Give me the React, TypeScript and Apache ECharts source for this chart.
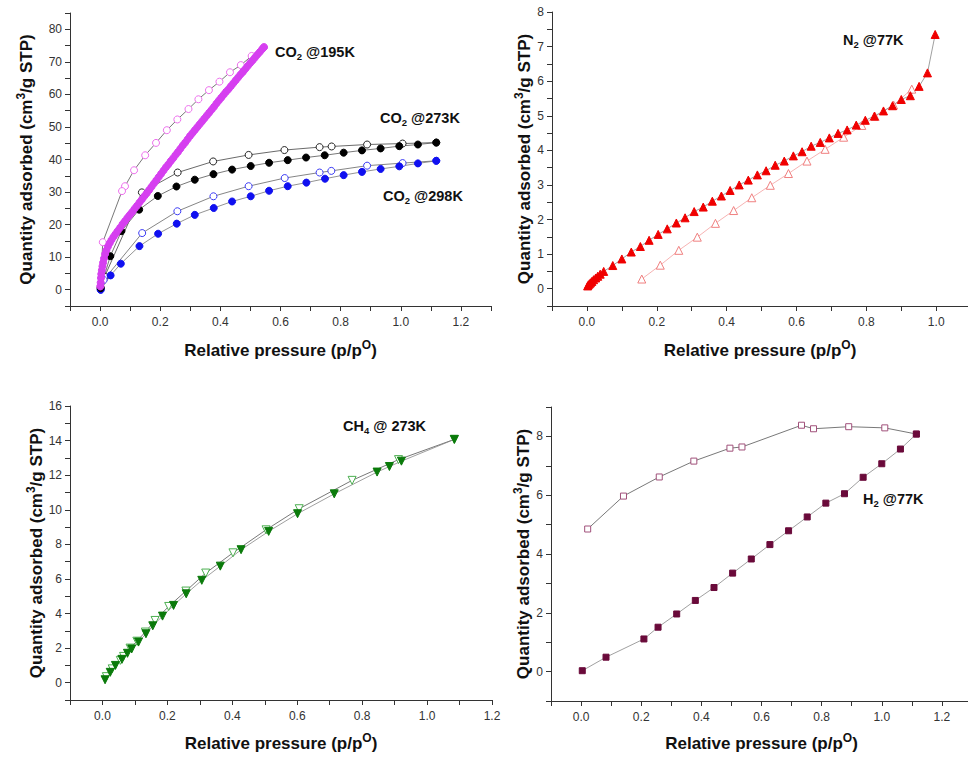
import React, { useEffect, useRef } from "react";
import * as echarts from "echarts";

const FONT = "'Liberation Sans', Arial, Helvetica, sans-serif";

// ---------- Panel 1: CO2 ----------
const CO2_195_ADS: [number, number][] = [
  [0.001, 1.0], [0.002, 2.2], [0.003, 3.6], [0.004, 4.8], [0.006, 6.0], [0.008, 7.2], [0.010, 8.3],
  [0.013, 9.6], [0.017, 11.0], [0.021, 12.1], [0.026, 13.2], [0.032, 14.3], [0.038, 15.3], [0.045, 16.3],
  [0.052, 17.2], [0.059, 18.1], [0.067, 19.1], [0.075, 20.2], [0.083, 21.1], [0.091, 22.1], [0.099, 23.0],
  [0.107, 23.9], [0.115, 24.9], [0.123, 25.8], [0.131, 26.8], [0.139, 27.7], [0.147, 28.7], [0.155, 29.6],
  [0.163, 30.6], [0.171, 31.6], [0.179, 32.6], [0.187, 33.6], [0.195, 34.6], [0.203, 35.6], [0.211, 36.6],
  [0.219, 37.6], [0.227, 38.5], [0.235, 39.5], [0.243, 40.4], [0.251, 41.4], [0.259, 42.3], [0.267, 43.3],
  [0.275, 44.3], [0.283, 45.2], [0.291, 46.2], [0.299, 47.2], [0.307, 48.1], [0.315, 49.0], [0.323, 49.9],
  [0.331, 50.8], [0.339, 51.7], [0.347, 52.6], [0.355, 53.5], [0.363, 54.4], [0.371, 55.3], [0.379, 56.2],
  [0.387, 57.2], [0.395, 58.1], [0.403, 59.0], [0.411, 59.9], [0.419, 60.8], [0.427, 61.6], [0.435, 62.5],
  [0.443, 63.4], [0.451, 64.3], [0.459, 65.2], [0.467, 66.1], [0.475, 66.9], [0.483, 67.8], [0.491, 68.7],
  [0.499, 69.6], [0.507, 70.4], [0.515, 71.3], [0.523, 72.2], [0.531, 73.0], [0.539, 73.9], [0.545, 74.5],
];
const CO2_195_DES: [number, number][] = [
  [0.545, 74.5], [0.504, 71.8], [0.468, 69.0], [0.432, 66.8], [0.397, 63.9], [0.362, 61.3], [0.327, 58.5],
  [0.294, 55.5], [0.257, 52.3], [0.222, 49.0], [0.186, 45.1], [0.150, 41.3], [0.113, 36.7], [0.083, 31.8],
  [0.073, 30.3], [0.009, 14.6], [0.001, 1.0],
];
const CO2_273_ADS: [number, number][] = [
  [0.002, 0.5], [0.034, 10.3], [0.071, 18.0], [0.130, 24.6], [0.192, 28.8], [0.254, 31.7], [0.315, 33.8],
  [0.377, 35.5], [0.439, 36.9], [0.501, 38.0], [0.562, 39.0], [0.624, 39.8], [0.685, 40.6], [0.747, 41.3],
  [0.810, 42.1], [0.871, 42.8], [0.933, 43.4], [0.995, 44.1], [1.057, 44.6], [1.118, 45.2],
];
const CO2_273_DES: [number, number][] = [
  [1.118, 45.2], [1.006, 44.9], [0.888, 44.6], [0.770, 44.0], [0.730, 43.8], [0.613, 42.9], [0.494, 41.4],
  [0.376, 39.4], [0.258, 36.0], [0.139, 29.9], [0.015, 4.0], [0.002, 0.5],
];
const CO2_298_ADS: [number, number][] = [
  [0.002, 0.0], [0.035, 4.4], [0.069, 8.0], [0.131, 13.4], [0.193, 17.2], [0.255, 20.3], [0.315, 23.0],
  [0.378, 25.1], [0.439, 27.1], [0.501, 28.7], [0.562, 30.4], [0.624, 31.8], [0.686, 32.9], [0.748, 34.1],
  [0.810, 35.2], [0.871, 36.2], [0.933, 37.1], [0.995, 37.9], [1.057, 38.8], [1.118, 39.6],
];
const CO2_298_DES: [number, number][] = [
  [1.118, 39.6], [1.006, 38.9], [0.888, 38.1], [0.769, 36.5], [0.730, 36.0], [0.614, 34.3], [0.494, 31.8],
  [0.377, 28.7], [0.257, 24.1], [0.140, 17.4], [0.012, 3.0], [0.002, 0.0],
];

// ---------- Panel 2: N2 ----------
const N2_ADS: [number, number][] = [
  [0.002, 0.08], [0.004, 0.11], [0.007, 0.14], [0.010, 0.17], [0.014, 0.21], [0.019, 0.26], [0.025, 0.31],
  [0.031, 0.36], [0.038, 0.42], [0.048, 0.50], [0.074, 0.67], [0.100, 0.86], [0.127, 1.06], [0.153, 1.22],
  [0.178, 1.40], [0.204, 1.57], [0.230, 1.73], [0.256, 1.90], [0.281, 2.05], [0.307, 2.23], [0.333, 2.36],
  [0.359, 2.53], [0.385, 2.68], [0.410, 2.84], [0.436, 3.00], [0.462, 3.14], [0.488, 3.29], [0.513, 3.41],
  [0.539, 3.57], [0.565, 3.69], [0.591, 3.84], [0.616, 3.96], [0.642, 4.12], [0.668, 4.23], [0.694, 4.36],
  [0.719, 4.49], [0.745, 4.59], [0.771, 4.73], [0.797, 4.87], [0.823, 4.99], [0.849, 5.14], [0.875, 5.29],
  [0.900, 5.47], [0.926, 5.58], [0.951, 5.85], [0.975, 6.24], [0.997, 7.35],
];
const N2_DES: [number, number][] = [
  [0.930, 5.77], [0.878, 5.31], [0.825, 4.98], [0.787, 4.72], [0.735, 4.38], [0.682, 4.03], [0.630, 3.69],
  [0.577, 3.33], [0.525, 2.99], [0.472, 2.63], [0.420, 2.26], [0.368, 1.89], [0.316, 1.49], [0.263, 1.11],
  [0.210, 0.68], [0.157, 0.28],
];

// ---------- Panel 3: CH4 ----------
const CH4_ADS: [number, number][] = [
  [0.008, 0.17], [0.024, 0.60], [0.040, 1.00], [0.060, 1.35], [0.077, 1.70], [0.090, 1.95], [0.111, 2.35],
  [0.134, 2.83], [0.155, 3.29], [0.185, 3.85], [0.219, 4.47], [0.258, 5.14], [0.306, 5.92], [0.363, 6.74],
  [0.427, 7.69], [0.512, 8.75], [0.601, 9.77], [0.714, 10.92], [0.846, 12.18], [0.884, 12.50], [0.921, 12.81],
  [1.084, 14.07],
];
const CH4_DES: [number, number][] = [
  [1.084, 14.07], [0.912, 12.90], [0.769, 11.70], [0.606, 10.06], [0.504, 8.84], [0.402, 7.51], [0.318, 6.34],
  [0.257, 5.30], [0.204, 4.41], [0.162, 3.60], [0.132, 2.93], [0.106, 2.40], [0.085, 2.00], [0.065, 1.52],
  [0.055, 1.29], [0.030, 0.80], [0.012, 0.35],
];

// ---------- Panel 4: H2 ----------
const H2_ADS: [number, number][] = [
  [0.004, 0.03], [0.083, 0.49], [0.209, 1.11], [0.256, 1.51], [0.318, 1.96], [0.380, 2.42], [0.442, 2.86],
  [0.504, 3.35], [0.566, 3.83], [0.628, 4.32], [0.690, 4.79], [0.752, 5.26], [0.814, 5.73], [0.876, 6.05],
  [0.938, 6.61], [1.000, 7.07], [1.062, 7.57], [1.115, 8.08],
];
const H2_DES: [number, number][] = [
  [1.115, 8.08], [1.010, 8.29], [0.890, 8.33], [0.773, 8.26], [0.733, 8.38], [0.535, 7.64], [0.495, 7.60],
  [0.375, 7.16], [0.260, 6.62], [0.141, 5.97], [0.022, 4.85],
];

const X_TITLE = "{t|Relative pressure (p/p}{s|O}{t|)}";
const Y_TITLE = "{t|Quantity adsorbed (cm}{s|3}{t|/g STP)}";

const titleRich = {
  t: { fontSize: 17, fontWeight: "bold", fontFamily: FONT, color: "#111", lineHeight: 22 },
  s: { fontSize: 12, fontWeight: "bold", fontFamily: FONT, color: "#111", lineHeight: 11, verticalAlign: "top" },
};

const fmtX = (v: number) => {
  const k = Math.round(v * 10);
  return k >= 0 && k % 2 === 0 && v <= 1.25 ? (k / 10).toFixed(1) : "";
};

function xAxis(gridIndex: number, max: number, nameGap: number) {
  return {
    type: "value",
    gridIndex,
    min: -0.1,
    max,
    interval: 0.1,
    axisLine: { show: true, onZero: false, lineStyle: { color: "#333", width: 1 } },
    axisTick: { show: true, length: 5, lineStyle: { color: "#333" } },
    splitLine: { show: false },
    axisLabel: { margin: 10, fontSize: 12, color: "#333", fontFamily: FONT, formatter: fmtX },
    name: X_TITLE,
    nameLocation: "middle",
    nameGap,
    nameTextStyle: { rich: titleRich },
  };
}

function yAxis(gridIndex: number, min: number, max: number, interval: number, labelStep: number, nameGap: number) {
  return {
    type: "value",
    gridIndex,
    min,
    max,
    interval,
    axisLine: { show: true, onZero: false, lineStyle: { color: "#333", width: 1 } },
    axisTick: { show: true, length: 5, lineStyle: { color: "#333" } },
    splitLine: { show: false },
    axisLabel: {
      margin: 8,
      fontSize: 12,
      color: "#333",
      fontFamily: FONT,
      formatter: (v: number) => {
        const r = Math.round(v * 1000) / 1000;
        if (r < 0) return "";
        const q = r / labelStep;
        return Math.abs(q - Math.round(q)) < 1e-6 ? String(r) : "";
      },
    },
    name: Y_TITLE,
    nameLocation: "middle",
    nameGap,
    nameTextStyle: { rich: titleRich },
  };
}

function ser(
  data: [number, number][],
  xi: number,
  symbol: string,
  size: number,
  fill: string,
  border: string,
  line: string,
  rotate = 0
) {
  return {
    type: "line",
    xAxisIndex: xi,
    yAxisIndex: xi,
    data,
    symbol,
    symbolSize: size,
    symbolRotate: rotate,
    showAllSymbol: true,
    itemStyle: { color: fill, borderColor: border, borderWidth: 1 },
    lineStyle: { color: line, width: 0.8 },
    silent: true,
  };
}

function label(x: number, y: number, main: string, sub: string, rest: string) {
  return {
    type: "text",
    x,
    y,
    style: {
      text: `{b|${main}}{s|${sub}}{b|${rest}}`,
      verticalAlign: "middle",
      align: "left",
      rich: {
        b: { fontSize: 14.5, fontWeight: "bold", fontFamily: FONT, fill: "#111", color: "#111", lineHeight: 18 },
        s: { fontSize: 9.5, fontWeight: "bold", fontFamily: FONT, fill: "#111", color: "#111", lineHeight: 9, verticalAlign: "bottom" },
      },
    },
  };
}

export default function App() {
  const ref = useRef<HTMLDivElement>(null);
  useEffect(() => {
    if (!ref.current) return;
    const chart = echarts.init(ref.current, null, { renderer: "svg" });
    const WHITE = "#ffffff";
    chart.setOption({
      animation: false,
      backgroundColor: "#ffffff",
      grid: [
        { left: 70, top: 13, width: 421, height: 293, outerBoundsMode: "none", containLabel: false },
        { left: 552, top: 12, width: 416, height: 294, outerBoundsMode: "none", containLabel: false },
        { left: 70, top: 406, width: 422, height: 294, outerBoundsMode: "none", containLabel: false },
        { left: 551, top: 407, width: 421, height: 294, outerBoundsMode: "none", containLabel: false },
      ],
      xAxis: [xAxis(0, 1.3, 33), xAxis(1, 1.091, 33), xAxis(2, 1.2, 32), xAxis(3, 1.3, 31)],
      yAxis: [
        yAxis(0, -5, 85, 5, 10, 33),
        yAxis(1, -0.5, 8, 0.5, 1, 17),
        yAxis(2, -1, 16, 1, 2, 18),
        yAxis(3, -1, 9, 1, 2, 17),
      ],
      series: [
        ser(CO2_195_DES, 0, "circle", 7, WHITE, "#ee6fee", "#555"),
        ser(CO2_273_DES, 0, "circle", 7, WHITE, "#222", "#444"),
        ser(CO2_298_DES, 0, "circle", 7, WHITE, "#3a3af5", "#666"),
        ser(CO2_298_ADS, 0, "circle", 7, "#1010f0", "#1010f0", "#777"),
        ser(CO2_273_ADS, 0, "circle", 7, "#000000", "#000000", "#555"),
        ser(CO2_195_ADS, 0, "circle", 7, "#d63ff0", "#d63ff0", "#d63ff0"),
        ser(N2_DES, 1, "triangle", 8, WHITE, "#f08080", "#f4a0a0"),
        ser(N2_ADS, 1, "triangle", 8, "#f00000", "#f00000", "#888"),
        ser(CH4_DES, 2, "triangle", 8, WHITE, "#4caf50", "#555", 180),
        ser(CH4_ADS, 2, "triangle", 8, "#0a7a0a", "#0a7a0a", "#888", 180),
        ser(H2_DES, 3, "rect", 6, WHITE, "#a0507a", "#555"),
        ser(H2_ADS, 3, "rect", 6, "#6a0a3a", "#6a0a3a", "#888"),
      ],
      graphic: [
        label(275, 52, "CO", "2", " @195K"),
        label(380, 118, "CO", "2", " @273K"),
        label(383, 196, "CO", "2", " @298K"),
        label(843, 40, "N", "2", " @77K"),
        label(343, 426, "CH", "4", " @ 273K"),
        label(863, 499, "H", "2", " @77K"),
      ],
    });
    return () => chart.dispose();
  }, []);
  return (
    <div
      ref={ref}
      style={{ position: "fixed", left: 0, top: 0, width: 968, height: 757, background: "#fff" }}
    />
  );
}
